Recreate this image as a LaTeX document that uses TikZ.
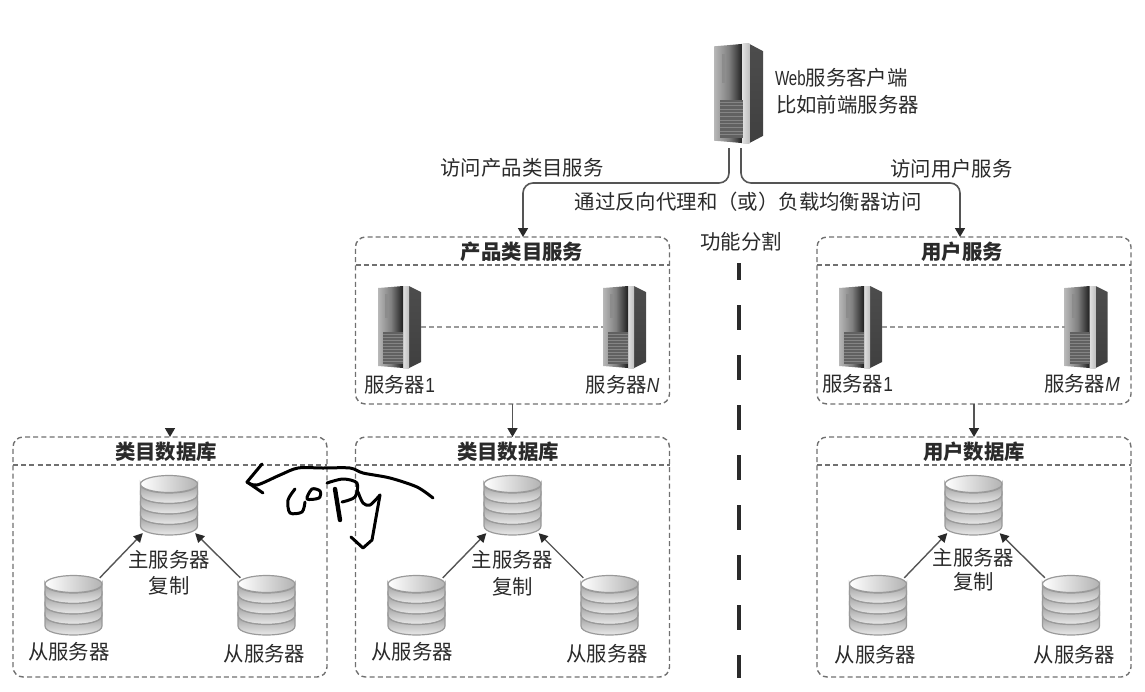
\documentclass[tikz,border=0pt]{standalone}
\usepackage{fontspec}
\usepackage{xcolor}
\setmainfont{Noto Sans CJK SC}
\newfontfamily\latinfont[FakeStretch=.85]{Liberation Sans}
\newfontfamily\webfont[FakeStretch=.74]{Liberation Sans}
\usetikzlibrary{arrows.meta,positioning,calc}

\definecolor{inkgray}{HTML}{2A2A2A}
\definecolor{linegray}{HTML}{555555}
\definecolor{dashgray}{HTML}{707070}
\definecolor{edgegray}{HTML}{9A9A9A}

\tikzset{
  caption/.style={inner sep=0pt, outer sep=0pt, text=inkgray, text height=8.5pt, text depth=1.5pt,
    font=\fontsize{10.2}{12}\selectfont},
  title/.style={caption, font=\fontsize{10.2}{12}\selectfont\bfseries},
  group/.style={draw=dashgray, line width=.7pt, dash pattern=on 2.5pt off 1.6pt, rounded corners=5pt,
    minimum width=157pt, inner sep=0pt, outer sep=0pt},
  divider/.style={draw=dashgray, line width=.7pt, dash pattern=on 2.5pt off 1.6pt},
  peer/.style={draw=edgegray, line width=.7pt, dash pattern=on 2.5pt off 1.6pt},
  flow/.style={draw=linegray, line width=.8pt, rounded corners=5pt, -{Triangle[length=4.5pt,width=5pt,color=inkgray]}},
  repl/.style={draw=linegray, line width=.7pt, shorten <=-2pt, shorten >=-2pt, -{Triangle[length=4.5pt,width=4.6pt,color=inkgray]}},
  split/.style={draw=inkgray, line width=1.8pt, dash pattern=on 12.5pt off 12.5pt, dash phase=4pt},
  hand/.style={draw=black, line width=1.5pt, line cap=round, line join=round},
  serverart/.pic={
    \begin{scope}[shift={(-21.5,-41)}]
      \shade[top color=black!70, middle color=black!10, bottom color=black!75] (31,0) -- (43,6) -- (43,76) -- (31,82) -- cycle;
      \shade[left color=black!12, right color=black!25] (25,0) rectangle (31,82);
      \shade[left color=black!50, right color=black!88] (13,1) -- (25,0) -- (25,82) -- (13,81) -- cycle;
      \shade[left color=black!28, right color=black!50] (0,2) -- (13,1) -- (13,81) -- (0,80) -- cycle;
      \fill[black!45] (7,8) rectangle (10,32);
      \fill[black!62] (5,46) rectangle (25,78);
      \foreach \liney in {48,51,...,77} \draw[black!48, line width=.4pt] (5,\liney) -- (25,\liney);
    \end{scope}
  },
  dbart/.pic={
    \begin{scope}[shift={(-29,-30.5)}]
      \foreach \bandy in {9,19.5,30,40.5}
        \shade[top color=black!38, bottom color=black!4, draw=edgegray, line width=.6pt]
          (.5,\bandy) .. controls (.5,\bandy+12) and (57.5,\bandy+12) .. (57.5,\bandy)
          -- (57.5,\bandy+10.5) .. controls (57.5,\bandy+22.5) and (.5,\bandy+22.5) .. (.5,\bandy+10.5) -- cycle;
      \shade[left color=white, right color=black!30, draw=edgegray, line width=.6pt] (29,9) ellipse [x radius=28.5, y radius=8.5];
    \end{scope}
  },
  servershape/.style 2 args={inner sep=0pt, outer sep=0pt, minimum width=#1*21.5pt, minimum height=#2*41pt,
    append after command={pic[xscale=#1, yscale=#2] at (\tikzlastnode.center) {serverart}}},
  dbshape/.style={inner sep=0pt, outer sep=0pt, minimum width=29pt, minimum height=30.5pt,
    append after command={pic at (\tikzlastnode.center) {dbart}}}
}

\begin{document}
\begin{tikzpicture}[x=.5pt, y=-.5pt]
  \useasboundingbox (0,0) rectangle (1145,691);

  \node (web)[servershape={1.14}{1.21}] at (738.5,93.5) {};
  \node (webname)[caption, anchor=west] at (775,78) {{\webfont Web}服务客户端};
  \node (webkind)[caption, anchor=west] at (776,105) {比如前端服务器};
  \coordinate (webleft) at (729,148);
  \coordinate (webright) at (741,148);
  \coordinate (bendleft) at (523,183);
  \coordinate (bendright) at (960,183);

  \node (visitcat)[caption] at (522,168) {访问产品类目服务};
  \node (visituser)[caption] at (951.5,169) {访问用户服务};
  \node (proxy)[caption] at (748,202) {通过反向代理和（或）负载均衡器访问};
  \node (func)[caption] at (741,242) {功能分割};

  \node (catsvc)[group, minimum height=83.5pt] at (512.5,320.5) {};
  \node (usersvc)[group, minimum height=83.5pt] at (974,320.5) {};
  \node (copydb)[group, minimum height=120pt] at (170,557) {};
  \node (catdb)[group, minimum height=120pt] at (512.5,557) {};
  \node (userdb)[group, minimum height=120pt] at (974,557) {};

  \node (catsvctitle)[title, below=2.75pt of catsvc.north, xshift=4.75pt] {产品类目服务};
  \node (usersvctitle)[title, below=2.75pt of usersvc.north, xshift=-6pt] {用户服务};
  \node (copydbtitle)[title, below=2.5pt of copydb.north, xshift=-2pt] {类目数据库};
  \node (catdbtitle)[title, below=2.5pt of catdb.north, xshift=-2.25pt] {类目数据库};
  \node (userdbtitle)[title, below=2.5pt of userdb.north] {用户数据库};

  \draw[divider] ($(catsvc.north west)+(0,28)$) -- ($(catsvc.north east)+(0,28)$);
  \draw[divider] ($(usersvc.north west)+(0,28)$) -- ($(usersvc.north east)+(0,28)$);
  \draw[divider] ($(copydb.north west)+(0,28)$) -- ($(copydb.north east)+(0,28)$);
  \draw[divider] ($(catdb.north west)+(0,28)$) -- ($(catdb.north east)+(0,28)$);
  \draw[divider] ($(userdb.north west)+(0,28)$) -- ($(userdb.north east)+(0,28)$);

  \node (catone)[servershape={1}{1}] at (399.5,327) {};
  \node (catn)[servershape={1}{1}] at (624.5,327) {};
  \node (userone)[servershape={1}{1}] at (860.5,327) {};
  \node (userm)[servershape={1}{1}] at (1086,327) {};
  \node (catonename)[caption, below=3.5pt of catone] {服务器{\latinfont 1}};
  \node (catnname)[caption, below=3.5pt of catn, xshift=-1pt] {服务器{\latinfont\itshape N}};
  \node (useronename)[caption, below=3pt of userone, xshift=-1.5pt] {服务器{\latinfont 1}};
  \node (usermname)[caption, below=3pt of userm, xshift=-2pt] {服务器{\latinfont\itshape M}};

  \node (copymaster)[dbshape] at (169,505.5) {};
  \node (copyleft)[dbshape] at (73.5,605.5) {};
  \node (copyright)[dbshape] at (266.5,605.5) {};
  \node (catmaster)[dbshape] at (512.5,505.5) {};
  \node (catleft)[dbshape] at (416.5,605.5) {};
  \node (catright)[dbshape] at (609.5,605.5) {};
  \node (usermaster)[dbshape] at (973.5,505.5) {};
  \node (userleft)[dbshape] at (878,605.5) {};
  \node (userright)[dbshape] at (1071,605.5) {};

  \node (copymastername)[caption, below=7pt of copymaster] {主服务器};
  \node (copyrepl)[caption, below=3pt of copymastername] {复制};
  \node (copyleftname)[caption, below=3pt of copyleft, xshift=-2.25pt] {从服务器};
  \node (copyrightname)[caption, below=4pt of copyright, xshift=-1pt] {从服务器};
  \node (catmastername)[caption, below=7pt of catmaster] {主服务器};
  \node (catrepl)[caption, below=3.5pt of catmastername] {复制};
  \node (catleftname)[caption, below=3pt of catleft, xshift=-2.25pt] {从服务器};
  \node (catrightname)[caption, below=4pt of catright, xshift=-1.25pt] {从服务器};
  \node (usermastername)[caption, below=6pt of usermaster] {主服务器};
  \node (userrepl)[caption, below=2pt of usermastername] {复制};
  \node (userleftname)[caption, below=4.5pt of userleft, xshift=-1.25pt] {从服务器};
  \node (userrightname)[caption, below=4.5pt of userright, xshift=1.75pt] {从服务器};

  \draw[flow] (webleft) |- (bendleft) -- (bendleft |- catsvc.north);
  \draw[flow] (webright) |- (bendright) -- (bendright |- usersvc.north);
  \draw[peer] (catone) -- (catn);
  \draw[peer] (userone) -- (userm);
  \draw[flow] (catsvc.south) -- (catdb.north);
  \draw[flow] (usersvc.south) -- (userdb.north);
  \coordinate (copyentry) at (170,429);
  \draw[flow] (copyentry) -- (copyentry |- copydb.north);

  \draw[repl] (copyleft.north east) -- (copymaster.south west);
  \draw[repl] (copyright.north west) -- (copymaster.south east);
  \draw[repl] (catleft.north east) -- (catmaster.south west);
  \draw[repl] (catright.north west) -- (catmaster.south east);
  \draw[repl] (userleft.north east) -- (usermaster.south west);
  \draw[repl] (userright.north west) -- (usermaster.south east);

  \coordinate (splittop) at (739,263);
  \coordinate (splitend) at (739,678);
  \draw[split] (splittop) -- (splitend);

  \draw[hand] plot[smooth] coordinates {(433,498) (417,487) (390,478) (363,473) (350,468) (323,468) (298,468) (280,475) (257,485) (247,482)};
  \draw[hand] (262,464) -- (247,482) -- (263,493);
  \draw[hand] plot[smooth] coordinates {(295,489) (288,500) (290,513) (302,512) (305,502)};
  \draw[hand] plot[smooth cycle] coordinates {(307,499) (319,498) (320,491) (312,489)};
  \draw[hand, line width=2.2pt] (335,489) -- (340,520);
  \draw[hand] plot[smooth] coordinates {(327,483) (343,479) (357,483) (355,497) (342,502)};
  \draw[hand] plot[smooth] coordinates {(358,492) (363,503) (370,505) (380,495)};
  \draw[hand] (380,495) -- (372,540) -- (363,548) -- (351,537);
\end{tikzpicture}
\end{document}
